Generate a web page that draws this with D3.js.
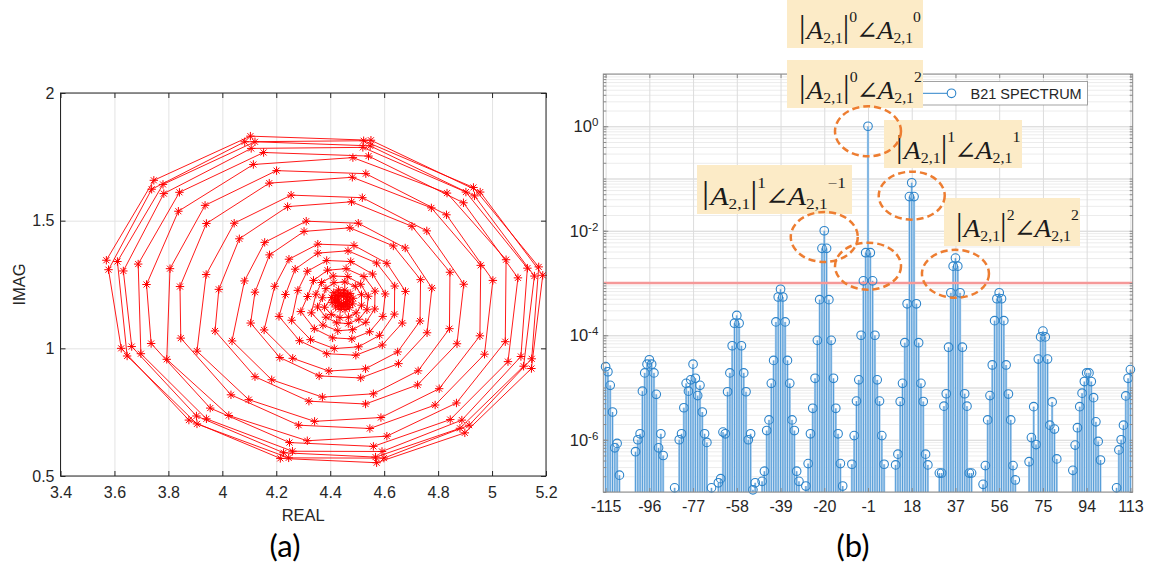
<!DOCTYPE html>
<html><head><meta charset="utf-8">
<script src="https://cdn.jsdelivr.net/npm/d3@7"></script>
<style>body{margin:0;background:#fff;} svg{display:block;}</style>
</head><body>
<svg id="chart" width="1153" height="573"></svg>
<script>
// ================= Panel (a): B21 trajectory (REAL vs IMAG) =================
const realValues = [
 3.570,3.746,4.104,4.551,4.956,5.188,5.146,4.899,4.572,4.215,3.876,3.625,
 3.578,3.738,4.083,4.524,4.931,5.173,5.147,4.915,4.599,4.246,3.906,3.647,
 3.611,3.780,4.121,4.548,4.935,5.157,5.117,4.881,4.568,4.227,3.904,3.664,
 3.633,3.783,4.107,4.521,4.903,5.131,5.107,4.888,4.592,4.260,3.941,3.698,
 3.688,3.841,4.153,4.542,4.894,5.096,5.059,4.845,4.560,4.249,3.955,3.736,
 3.719,3.837,4.115,4.484,4.833,5.052,5.049,4.868,4.610,4.315,4.024,3.794,
 3.806,3.936,4.201,4.532,4.831,5.003,4.972,4.789,4.547,4.283,4.032,3.846,
 3.843,3.941,4.174,4.482,4.775,4.958,4.955,4.804,4.588,4.342,4.098,3.906,
 3.940,4.044,4.255,4.519,4.758,4.895,4.870,4.724,4.531,4.321,4.121,3.973,
 3.987,4.063,4.242,4.479,4.703,4.844,4.842,4.726,4.560,4.371,4.183,4.036,
 4.082,4.157,4.311,4.504,4.678,4.777,4.759,4.653,4.513,4.359,4.213,4.105,
 4.121,4.175,4.303,4.473,4.634,4.735,4.733,4.650,4.531,4.395,4.261,4.155,
 4.194,4.247,4.354,4.488,4.610,4.679,4.667,4.593,4.495,4.387,4.286,4.210,
 4.234,4.270,4.354,4.466,4.572,4.639,4.638,4.583,4.505,4.415,4.327,4.257,
 4.280,4.315,4.387,4.476,4.557,4.604,4.595,4.546,4.480,4.409,4.341,4.291,
 4.316,4.338,4.390,4.459,4.525,4.566,4.565,4.532,4.483,4.428,4.373,4.330,
 4.347,4.368,4.411,4.465,4.513,4.541,4.536,4.506,4.467,4.424,4.384,4.353,
 4.371,4.384,4.414,4.454,4.493,4.516,4.516,4.496,4.468,4.436,4.404,4.379,
 4.405,4.413,4.431,4.454,4.474,4.485,4.483,4.471,4.455,4.437,4.420,4.407,
 4.416,4.421,4.433,4.449,4.464,4.473,4.473,4.465,4.454,4.442,4.429,4.419,
 4.427,4.431,4.439,4.449,4.458,4.463,4.462,4.456,4.449,4.441,4.434,4.428
];
const imagValues = [
 1.345,1.658,1.831,1.815,1.612,1.286,0.921,0.669,0.552,0.569,0.719,1.000,
 1.308,1.623,1.809,1.813,1.630,1.319,0.959,0.699,0.570,0.571,0.704,0.970,
 1.340,1.642,1.809,1.793,1.597,1.283,0.930,0.687,0.574,0.591,0.735,1.007,
 1.303,1.606,1.783,1.787,1.612,1.314,0.968,0.719,0.596,0.597,0.724,0.979,
 1.330,1.611,1.767,1.753,1.570,1.276,0.948,0.721,0.616,0.631,0.766,1.019,
 1.250,1.537,1.720,1.747,1.608,1.347,1.026,0.786,0.656,0.638,0.737,0.957,
 1.312,1.560,1.696,1.684,1.523,1.266,0.977,0.778,0.686,0.699,0.818,1.040,
 1.242,1.489,1.647,1.670,1.550,1.325,1.049,0.842,0.729,0.714,0.799,0.989,
 1.289,1.490,1.600,1.590,1.460,1.251,1.018,0.857,0.782,0.793,0.889,1.068,
 1.231,1.429,1.555,1.574,1.478,1.298,1.077,0.912,0.822,0.809,0.877,1.029,
 1.264,1.415,1.498,1.490,1.393,1.236,1.061,0.940,0.884,0.892,0.964,1.099,
 1.220,1.366,1.458,1.472,1.401,1.269,1.107,0.986,0.920,0.911,0.961,1.072,
 1.243,1.349,1.408,1.403,1.333,1.223,1.099,1.013,0.973,0.979,1.030,1.125,
 1.211,1.310,1.373,1.382,1.334,1.244,1.134,1.051,1.006,0.999,1.034,1.110,
 1.227,1.302,1.344,1.340,1.291,1.213,1.125,1.065,1.037,1.041,1.077,1.144,
 1.203,1.266,1.306,1.312,1.281,1.224,1.154,1.102,1.073,1.069,1.091,1.139,
 1.212,1.258,1.283,1.281,1.251,1.204,1.151,1.114,1.097,1.100,1.122,1.162,
 1.198,1.234,1.257,1.260,1.243,1.210,1.169,1.139,1.122,1.120,1.133,1.161,
 1.199,1.218,1.229,1.228,1.215,1.196,1.174,1.159,1.152,1.153,1.162,1.179,
 1.193,1.207,1.216,1.217,1.210,1.198,1.182,1.171,1.164,1.163,1.168,1.179,
 1.194,1.202,1.207,1.206,1.201,1.193,1.183,1.177,1.173,1.174,1.178,1.185
];
const realTicks = [3.4,3.6,3.8,4,4.2,4.4,4.6,4.8,5,5.2];
const imagTicks = [0.5,1,1.5,2];

// ================= Panel (b): B21 spectrum =================
const spectrumBins = [
 -115,-114,-113,-112,-111,-110,-109,
 -102,-101,-100,-99,-98,-97,-96,-95,-94,-93,-92,-91,-90,
 -85,-83,-82,-81,-80,-79,-78,-77,-76,-75,-74,-73,-72,-71,-69,
 -66,-65,-64,-63,-62,-61,-60,-59,-58,-57,-56,-55,-54,-53,-52,-51,-50,
 -47,-46,-45,-44,-43,-42,-41,-40,-39,-38,-37,-36,-35,-34,-33,-32,-31,
 -28,-27,-26,-25,-24,-23,-22,-21,-20,-19,-18,-17,-16,-15,-14,-13,-12,
 -8,-7,-6,-5,-4,-3,-2,-1,0,1,2,3,4,5,6,
 11,12,13,14,15,16,17,18,19,20,21,22,23,24,25,
 30,31,32,33,34,35,36,37,38,39,40,41,42,43,44,
 49,50,51,52,53,54,55,56,57,58,59,60,61,62,63,
 69,70,71,72,73,74,75,76,77,78,79,80,81,
 88,89,90,91,92,93,94,95,96,97,98,99,100,
 107,108,109,110,111,112,113
];
const spectrumValues = [
 2.5e-5,2.0e-5,1.1e-5,3.4e-6,7e-7,8.5e-7,2.1e-7,
 5.9e-7,1.0e-6,1.3e-6,8.5e-6,1.9e-5,2.8e-5,3.4e-5,2.8e-5,1.9e-5,7.4e-6,7e-7,1.3e-6,5e-7,
 1.2e-7,1.0e-6,1.3e-6,4.1e-6,1.2e-5,8.5e-6,1.4e-5,2.8e-5,1.5e-5,7e-6,1.1e-5,3.4e-6,1.3e-6,8.9e-7,1.2e-7,
 1.5e-7,1.8e-7,1.4e-6,1.3e-6,8.3e-6,1.9e-5,6.3e-5,1.7e-4,2.4e-4,1.7e-4,6.3e-5,1.9e-5,8.3e-6,1.0e-6,1.3e-6,1.1e-7,1.5e-7,
 1.6e-7,2.5e-7,1.5e-6,2.4e-6,1.2e-5,3.3e-5,1.8e-4,5.4e-4,7.6e-4,5.4e-4,1.8e-4,3.3e-5,1.2e-5,2.4e-6,1.5e-6,2.5e-7,1.6e-7,
 1.3e-7,3.5e-7,1.3e-6,4.0e-6,1.5e-5,8.0e-5,4.8e-4,4.6e-3,1.0e-2,4.6e-3,4.8e-4,8.0e-5,1.5e-5,4.0e-6,1.3e-6,3.5e-7,1.3e-7,
 3.4e-7,1.2e-6,5.5e-6,1.4e-5,1.0e-4,1.1e-3,3.8e-3,1.0,3.8e-3,1.1e-3,1.0e-4,1.4e-5,5.5e-6,1.2e-6,3.4e-7,
 3.3e-7,5.3e-7,5.4e-6,1.2e-5,7.2e-5,4.0e-4,4.5e-2,8.3e-2,4.5e-2,4.0e-4,7.2e-5,1.2e-5,5.4e-6,5.3e-7,3.3e-7,
 2.3e-7,2.3e-7,4.4e-6,7.6e-6,5.9e-5,6.5e-4,2.1e-3,3.0e-3,2.1e-3,6.5e-4,5.9e-5,7.6e-6,4.4e-6,2.3e-7,2.3e-7,
 1.4e-7,3.2e-7,2.4e-6,7.0e-6,2.7e-5,1.9e-4,5.0e-4,6.5e-4,5.0e-4,1.9e-4,2.7e-5,7.5e-6,2.4e-6,3.2e-7,1.7e-7,
 3.8e-7,1.1e-6,4.3e-6,8.1e-7,3.5e-5,9.3e-5,1.2e-4,9.3e-5,3.5e-5,1.9e-6,5.3e-6,1.6e-6,4.3e-7,
 2.6e-7,7.9e-7,1.7e-6,4.3e-6,7.8e-6,1.3e-5,1.9e-5,1.9e-5,1.3e-5,6.4e-6,2.2e-6,9.3e-7,4.1e-7,
 1.2e-7,6.4e-7,1.0e-6,1.9e-6,6.9e-6,1.5e-5,2.2e-5
];
const binTicks = [-115,-96,-77,-58,-39,-20,-1,18,37,56,75,94,113];
const magnitudeTicks = [1e-6,1e-4,1e-2,1e0];
const thresholdValue = 1e-3;
const legendLabel = "B21 SPECTRUM";
// highlighted harmonics (dashed ellipses), anchored at spectrum bins/levels
const highlightBins   = [-1, 18, -20, -1, 37];
const highlightLevels = [0.8, 0.047, 7.6e-3, 2.1e-3, 1.5e-3];
// harmonic labels |A21|^p ∠A21^q
const labelMagPowers   = ["0","0","1","1","2"];
const labelAnglePowers = ["0","2","1","\u22121","2"];

// ================= drawing =================
const svg = d3.select("#chart");
const sans = "'Liberation Sans', Arial, Helvetica, sans-serif";
const tickColor = "#262626";

// ---------- Panel (a) ----------
const A = {left:60.5, right:546, top:93, bottom:476};
const xA = d3.scaleLinear().domain([3.4,5.2]).range([A.left,A.right]);
const yA = d3.scaleLinear().domain([0.5,2]).range([A.bottom,A.top]);
const gA = svg.append("g");

gA.append("g").attr("transform",`translate(0,${A.bottom})`)
  .call(d3.axisBottom(xA).tickValues(realTicks).tickSize(-(A.bottom-A.top)).tickFormat(""))
  .call(g=>{g.select(".domain").remove(); g.selectAll("line").attr("stroke","#e3e3e3");});
gA.append("g").attr("transform",`translate(${A.left},0)`)
  .call(d3.axisLeft(yA).tickValues(imagTicks).tickSize(-(A.right-A.left)).tickFormat(""))
  .call(g=>{g.select(".domain").remove(); g.selectAll("line").attr("stroke","#e3e3e3");});

const pts = realValues.map((r,i)=>[r, imagValues[i]]);
gA.append("path").datum(pts)
  .attr("d", d3.line().x(d=>xA(d[0])).y(d=>yA(d[1])))
  .attr("fill","none").attr("stroke","#ff0000").attr("stroke-width",0.9);
const star = "M-4.2,0H4.2M0,-4.2V4.2M-3,-3L3,3M-3,3L3,-3";
gA.append("g").selectAll("path").data(pts).join("path")
  .attr("transform",d=>`translate(${xA(d[0])},${yA(d[1])})`)
  .attr("d",star).attr("fill","none").attr("stroke","#ff0000").attr("stroke-width",1);

function styleAxis(g, color){
  g.select(".domain").remove();
  g.selectAll("line").attr("stroke",color);
  g.selectAll("text").attr("fill",tickColor).attr("font-family",sans);
}
gA.append("g").attr("transform",`translate(0,${A.bottom})`)
  .call(d3.axisBottom(xA).tickValues(realTicks).tickSize(-5).tickPadding(11).tickFormat(d3.format("~g")))
  .attr("font-size",16).call(g=>styleAxis(g,"#262626"));
gA.append("g").attr("transform",`translate(0,${A.top})`)
  .call(d3.axisTop(xA).tickValues(realTicks).tickSize(-5).tickFormat(""))
  .call(g=>styleAxis(g,"#262626"));
gA.append("g").attr("transform",`translate(${A.left},0)`)
  .call(d3.axisLeft(yA).tickValues(imagTicks).tickSize(-5).tickPadding(6).tickFormat(d3.format("~g")))
  .attr("font-size",16).call(g=>styleAxis(g,"#262626"));
gA.append("g").attr("transform",`translate(${A.right},0)`)
  .call(d3.axisRight(yA).tickValues(imagTicks).tickSize(-5).tickFormat(""))
  .call(g=>styleAxis(g,"#262626"));
gA.append("rect").attr("x",A.left).attr("y",A.top).attr("width",A.right-A.left).attr("height",A.bottom-A.top)
  .attr("fill","none").attr("stroke","#262626").attr("stroke-width",1);
gA.append("text").attr("x",(A.left+A.right)/2).attr("y",521).attr("text-anchor","middle")
  .attr("font-family",sans).attr("font-size",16.5).attr("fill",tickColor).text("REAL");
gA.append("text").attr("transform",`translate(25,${(A.top+A.bottom)/2}) rotate(-90)`).attr("text-anchor","middle")
  .attr("font-family",sans).attr("font-size",16.5).attr("fill",tickColor).text("IMAG");
svg.append("text").attr("x",285).attr("y",557).attr("text-anchor","middle")
  .attr("font-family","Lato, 'Open Sans', sans-serif").attr("font-size",31).attr("fill","#000").text("(a)");

// ---------- Panel (b) ----------
const B = {left:603.3, right:1132.7, top:74, bottom:492};
const xB = d3.scaleLinear().domain([-116,114]).range([B.left,B.right]);
const yB = d3.scaleLog().domain([1e-7,10]).range([B.bottom,B.top]);
const gB = svg.append("g");
svg.append("defs").append("clipPath").attr("id","clipB").append("rect")
  .attr("x",B.left).attr("y",B.top).attr("width",B.right-B.left).attr("height",B.bottom-B.top);

const allLogTicks = yB.ticks();
const decades = allLogTicks.filter(d=>Math.abs(Math.log10(d)-Math.round(Math.log10(d)))<1e-9);
gB.append("g").attr("transform",`translate(${B.left},0)`)
  .call(d3.axisLeft(yB).tickValues(allLogTicks).tickSize(-(B.right-B.left)).tickFormat(""))
  .call(g=>{g.select(".domain").remove(); g.selectAll("line").attr("stroke","#ececec");});
gB.append("g").attr("transform",`translate(${B.left},0)`)
  .call(d3.axisLeft(yB).tickValues(decades).tickSize(-(B.right-B.left)).tickFormat(""))
  .call(g=>{g.select(".domain").remove(); g.selectAll("line").attr("stroke","#d9d9d9");});
gB.append("g").attr("transform",`translate(0,${B.bottom})`)
  .call(d3.axisBottom(xB).tickValues(binTicks).tickSize(-(B.bottom-B.top)).tickFormat(""))
  .call(g=>{g.select(".domain").remove(); g.selectAll("line").attr("stroke","#dcdcdc");});

const spec = spectrumBins.map((b,i)=>({bin:b, v:spectrumValues[i]}));
const plotB = gB.append("g").attr("clip-path","url(#clipB)");
const stepW = xB(1)-xB(0);
plotB.append("g").selectAll("rect").data(spec).join("rect")
  .attr("x",d=>xB(d.bin)-stepW/2).attr("width",stepW)
  .attr("y",d=>yB(d.v)).attr("height",d=>B.bottom-yB(d.v))
  .attr("fill","#b3d2ee");
plotB.append("g").selectAll("line").data(spec).join("line")
  .attr("x1",d=>xB(d.bin)).attr("x2",d=>xB(d.bin))
  .attr("y1",B.bottom).attr("y2",d=>yB(d.v))
  .attr("stroke","#3d8fd2").attr("stroke-width",0.8);
plotB.append("line").attr("x1",B.left).attr("x2",B.right)
  .attr("y1",yB(thresholdValue)).attr("y2",yB(thresholdValue))
  .attr("stroke","#f59898").attr("stroke-width",2.5);
gB.append("g").selectAll("circle").data(spec).join("circle")
  .attr("cx",d=>xB(d.bin)).attr("cy",d=>yB(d.v)).attr("r",4.3)
  .attr("fill","none").attr("stroke","#2d84ca").attr("stroke-width",1.1);

const axisGray = "#8a8a8a";
gB.append("g").attr("transform",`translate(0,${B.bottom})`)
  .call(d3.axisBottom(xB).tickValues(binTicks).tickSize(-4).tickPadding(9).tickFormat(d=>String(d)))
  .attr("font-size",16).call(g=>styleAxis(g,axisGray));
gB.append("g").attr("transform",`translate(0,${B.top})`)
  .call(d3.axisTop(xB).tickValues(binTicks).tickSize(-4).tickFormat(""))
  .call(g=>styleAxis(g,axisGray));
gB.append("g").attr("transform",`translate(${B.left},0)`)
  .call(d3.axisLeft(yB).tickValues(allLogTicks).tickSize(-3).tickFormat(""))
  .call(g=>styleAxis(g,axisGray));
gB.append("g").attr("transform",`translate(${B.right},0)`)
  .call(d3.axisRight(yB).tickValues(allLogTicks).tickSize(-3).tickFormat(""))
  .call(g=>styleAxis(g,axisGray));
const yLab = gB.append("g").attr("transform",`translate(${B.left},0)`)
  .call(d3.axisLeft(yB).tickValues(magnitudeTicks).tickSize(-5).tickPadding(5).tickFormat(""))
  .attr("font-size",16.5).call(g=>styleAxis(g,axisGray));
yLab.selectAll(".tick text").each(function(d){
  const t = d3.select(this);
  t.append("tspan").text("10");
  t.append("tspan").attr("dy","-0.5em").attr("font-size",11.5).text(String(Math.round(Math.log10(d))));
});
gB.append("rect").attr("x",B.left).attr("y",B.top).attr("width",B.right-B.left).attr("height",B.bottom-B.top)
  .attr("fill","none").attr("stroke",axisGray).attr("stroke-width",1);

// legend
const leg = gB.append("g");
leg.append("rect").attr("x",912).attr("y",81.5).attr("width",1087.5-912).attr("height",23.5)
  .attr("fill","#fff").attr("stroke","#8c8c8c").attr("stroke-width",0.8);
leg.append("line").attr("x1",918).attr("x2",951.5).attr("y1",93.3).attr("y2",93.3)
  .attr("stroke","#2d84ca").attr("stroke-width",1);
leg.append("circle").attr("cx",951.5).attr("cy",93.3).attr("r",4.3)
  .attr("fill","#fff").attr("stroke","#2d84ca").attr("stroke-width",1.1);
leg.append("text").attr("x",970.5).attr("y",98.5).attr("font-family",sans).attr("font-size",14.5)
  .attr("fill",tickColor).text(legendLabel);

// annotation boxes (layout in px)
const boxLayout = [
  {x0:787, y0:-2, x1:923, y1:48, tx0:799, tx1:921},
  {x0:787, y0:60, x1:923, y1:108, tx0:799, tx1:922},
  {x0:884, y0:120, x1:1022, y1:168, tx0:896, tx1:1020},
  {x0:697, y0:165, x1:852, y1:214, tx0:702, tx1:846},
  {x0:944, y0:198, x1:1080, y1:246, tx0:956, tx1:1079}
];
const serif = "'Liberation Serif','DejaVu Serif',serif";
function mathLabel(g, magPow, angPow){
  const t = g.append("text").attr("font-family",serif).attr("fill","#1a1a1a").attr("x",0).attr("y",0);
  t.append("tspan").attr("font-size",31).attr("dy",-2).text("|");
  t.append("tspan").attr("font-size",26).attr("font-style","italic").attr("dy",2).attr("dx",1).text("A");
  t.append("tspan").attr("font-size",15).attr("dy",4).text("2,1");
  t.append("tspan").attr("font-size",31).attr("dy",-6).attr("dx",0).text("|");
  t.append("tspan").attr("font-size",15).attr("dy",-15).attr("dx",0).text(magPow);
  t.append("tspan").attr("font-size",25).attr("font-family","'DejaVu Serif',serif").attr("dy",17).attr("dx",-1).text("\u2220");
  t.append("tspan").attr("font-size",26).attr("font-style","italic").attr("dx",-1).text("A");
  t.append("tspan").attr("font-size",15).attr("dy",4).text("2,1");
  t.append("tspan").attr("font-size",15).attr("dy",-21).attr("dx",0).text(angPow);
  return t;
}
boxLayout.forEach((b,i)=>{
  const g = gB.append("g");
  g.append("rect").attr("x",b.x0).attr("y",b.y0).attr("width",b.x1-b.x0).attr("height",b.y1-b.y0)
    .attr("fill","#fcebc7");
  const inner = g.append("g");
  const t = mathLabel(inner, labelMagPowers[i], labelAnglePowers[i]);
  const bb = t.node().getBBox();
  const s = (b.tx1-b.tx0)/bb.width;
  inner.attr("transform",`translate(${b.tx0 - bb.x*s},${b.y1-9}) scale(${s},1)`);
});

// dashed ellipses
const ellipseR = [[33,25],[33,24],[33.5,25],[33,23.5],[33.5,24]];
gB.append("g").selectAll("ellipse").data(highlightBins).join("ellipse")
  .attr("cx",(d)=>xB(d)).attr("cy",(d,i)=>yB(highlightLevels[i]))
  .attr("rx",(d,i)=>ellipseR[i][0]).attr("ry",(d,i)=>ellipseR[i][1])
  .attr("fill","none").attr("stroke","#ed7d31").attr("stroke-width",2.5).attr("stroke-dasharray","7,4");

svg.append("text").attr("x",853).attr("y",557).attr("text-anchor","middle")
  .attr("font-family","Lato, 'Open Sans', sans-serif").attr("font-size",31).attr("fill","#000").text("(b)");
</script>
</body></html>
